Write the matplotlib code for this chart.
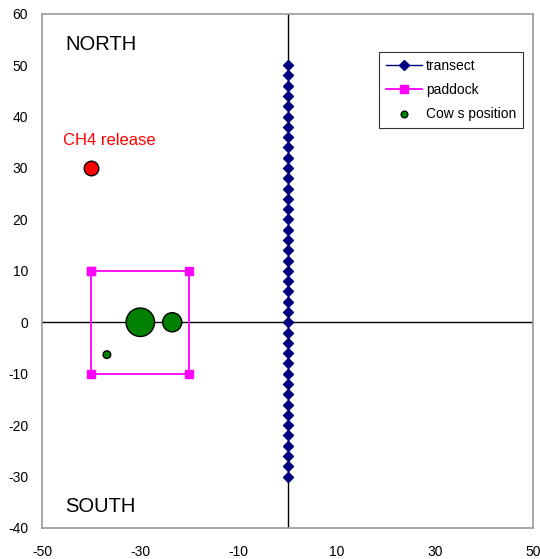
import matplotlib
matplotlib.use("Agg")
import matplotlib.pyplot as plt
import numpy as np

plt.rcParams['font.family'] = ['Liberation Sans', 'DejaVu Sans']
plt.rcParams['axes.unicode_minus'] = False

# transect along x = 0
transect_y = list(range(-30, 51, 2))
transect_x = [0] * len(transect_y)

# paddock corners
paddock_x = [-40, -20, -20, -40, -40]
paddock_y = [10, 10, -10, -10, 10]

# cows (bubble sizes in points^2)
cow_x = [-30, -23.5, -36.8]
cow_y = [0, 0, -6.3]
cow_size = [420, 190, 30]

# CH4 source
ch4_x = [-40]
ch4_y = [30]


def main():
    fig = plt.figure(figsize=(5.4, 5.59), dpi=100)
    ax = fig.add_axes([0.078, 0.0555, 0.909, 0.92])

    ax.axhline(0, color="black", lw=1.0, zorder=1)
    ax.axvline(0, color="black", lw=1.0, zorder=1)

    ax.plot(transect_x, transect_y, color="#000080", lw=1.0, marker="D",
            markersize=4.8, markerfacecolor="#000080", markeredgecolor="#000080",
            label="transect", zorder=3)
    ax.plot(paddock_x, paddock_y, color="#FF00FF", lw=1.3, marker="s",
            markersize=5.5, label="paddock", zorder=3)
    ax.scatter(cow_x, cow_y, s=cow_size, color="#008000", edgecolors="black",
               linewidths=1.0, zorder=4)
    ax.scatter([], [], s=25, color="#008000", edgecolors="black",
               linewidths=0.8, label="Cow s position")
    ax.scatter(ch4_x, ch4_y, s=110, color="#FF0000", edgecolors="black",
               linewidths=1.0, zorder=4)

    ax.text(-45.3, 54.0, "NORTH", fontsize=14.5, va="center", ha="left")
    ax.text(-45.3, -35.9, "SOUTH", fontsize=14.5, va="center", ha="left")
    ax.text(-45.8, 35.3, "CH4 release", fontsize=12, color="red",
            va="center", ha="left")

    ax.set_xlim(-50, 50)
    ax.set_ylim(-40, 60)
    ax.set_xticks(np.arange(-50, 51, 20))
    ax.set_yticks(np.arange(-40, 61, 10))
    ax.tick_params(axis="x", length=0, labelsize=10, pad=12)
    ax.tick_params(axis="y", length=0, labelsize=10, pad=10)
    for s in ax.spines.values():
        s.set_color("#9a9a9a")
        s.set_linewidth(1.2)

    leg = ax.legend(loc="upper right", bbox_to_anchor=(0.98, 0.925),
                    fontsize=10, frameon=True, fancybox=False,
                    edgecolor="black", borderpad=0.5, handlelength=2.6,
                    handletextpad=0.3, labelspacing=0.7, borderaxespad=0)
    leg.get_frame().set_linewidth(0.8)

    fig.savefig("out.png", dpi=100)


if __name__ == "__main__":
    main()
